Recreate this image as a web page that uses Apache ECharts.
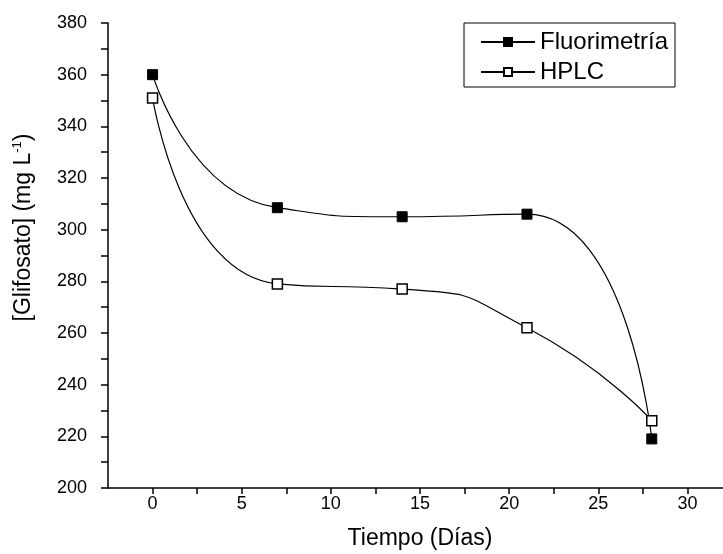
<!DOCTYPE html>
<html lang="es">
<head>
	<meta charset="UTF-8">
	<title>Glifosato</title>
	<style>
		html,body{margin:0px;padding:0px;background:#fff;overflow:hidden;}
		#chart{width:723px;height:554px;}
	</style>
</head>
<body>
	<div id="chart"></div>
</body>
</html>
<script type="text/javascript" src="https://cdn.jsdelivr.net/npm/echarts@6/dist/echarts.min.js"></script>
<script type="text/javascript">
	var dias = [0, 7, 14, 21, 28];
	var fluorimetria = [360, 308.5, 305, 306, 219];
	var hplc = [351, 279, 277, 262, 226];
	var font = "'Liberation Sans', Arial, sans-serif";

	function pares(xs, ys){
		var out = [];
		xs.forEach(function(x, i){ out.push([x, ys[i]]); });
		return out;
	}

	var option = {
		animation: false,
		backgroundColor: '#fff',
		textStyle: {fontFamily: font, color: '#000'},
		grid: {left: 108, top: 23, width: 624, height: 465, outerBoundsMode: 'none', containLabel: false},
		legend: {
			orient: 'vertical',
			left: 464,
			top: 23,
			padding: [7, 7, 3, 16],
			itemGap: 6,
			itemWidth: 54,
			itemHeight: 10,
			borderColor: '#000',
			borderWidth: 1,
			textStyle: {fontFamily: font, fontSize: 24, color: '#000'},
			data: ['Fluorimetría', 'HPLC']
		},
		xAxis: {
			type: 'value',
			min: -2.5,
			max: 32.5,
			interval: 2.5,
			name: 'Tiempo (Días)',
			nameLocation: 'middle',
			nameGap: 39,
			nameTextStyle: {fontFamily: font, fontSize: 23, color: '#000'},
			axisLine: {show: true, onZero: false, lineStyle: {color: '#000', width: 1.5}},
			axisTick: {show: true, inside: false, length: 6, lineStyle: {color: '#000', width: 1.5}},
			axisLabel: {
				margin: 7, fontSize: 18, color: '#000', fontFamily: font,
				showMinLabel: false,
				formatter: function(v){ return (v % 5 === 0 && v >= 0 && v <= 30) ? String(v) : ''; }
			},
			splitLine: {show: false}
		},
		yAxis: {
			type: 'value',
			min: 200,
			max: 380,
			interval: 10,
			name: '{n|[Glifosato] (mg L}{sup|-1}{n|)}',
			nameLocation: 'middle',
			nameRotate: 90,
			nameGap: 72,
			nameTextStyle: {
				padding: [0, 0, 0, 56],
				rich: {
					n: {fontFamily: font, fontSize: 23, color: '#000'},
					sup: {fontFamily: font, fontSize: 13, color: '#000', padding: [0, 0, 12, 0]}
				}
			},
			axisLine: {show: true, onZero: false, lineStyle: {color: '#000', width: 1.5}},
			axisTick: {show: true, inside: false, length: 7, lineStyle: {color: '#000', width: 1.5}},
			axisLabel: {
				margin: 21, fontSize: 18, color: '#000', fontFamily: font,
				formatter: function(v){ return v % 20 === 0 ? String(v) : ''; }
			},
			splitLine: {show: false}
		},
		series: [{
			name: 'Fluorimetría',
			type: 'line',
			data: pares(dias, fluorimetria),
			smooth: 0.6,
			symbol: 'rect',
			symbolSize: 10,
			lineStyle: {color: '#000', width: 1.2},
			itemStyle: {color: '#000', borderColor: '#000', borderWidth: 1}
		}, {
			name: 'HPLC',
			type: 'line',
			data: pares(dias, hplc),
			smooth: 0.6,
			symbol: 'rect',
			symbolSize: 10,
			lineStyle: {color: '#000', width: 1.2},
			itemStyle: {color: '#fff', borderColor: '#000', borderWidth: 1.5}
		}]
	};
	var myChart = echarts.init(document.getElementById('chart'));
	myChart.setOption(option);
</script>
